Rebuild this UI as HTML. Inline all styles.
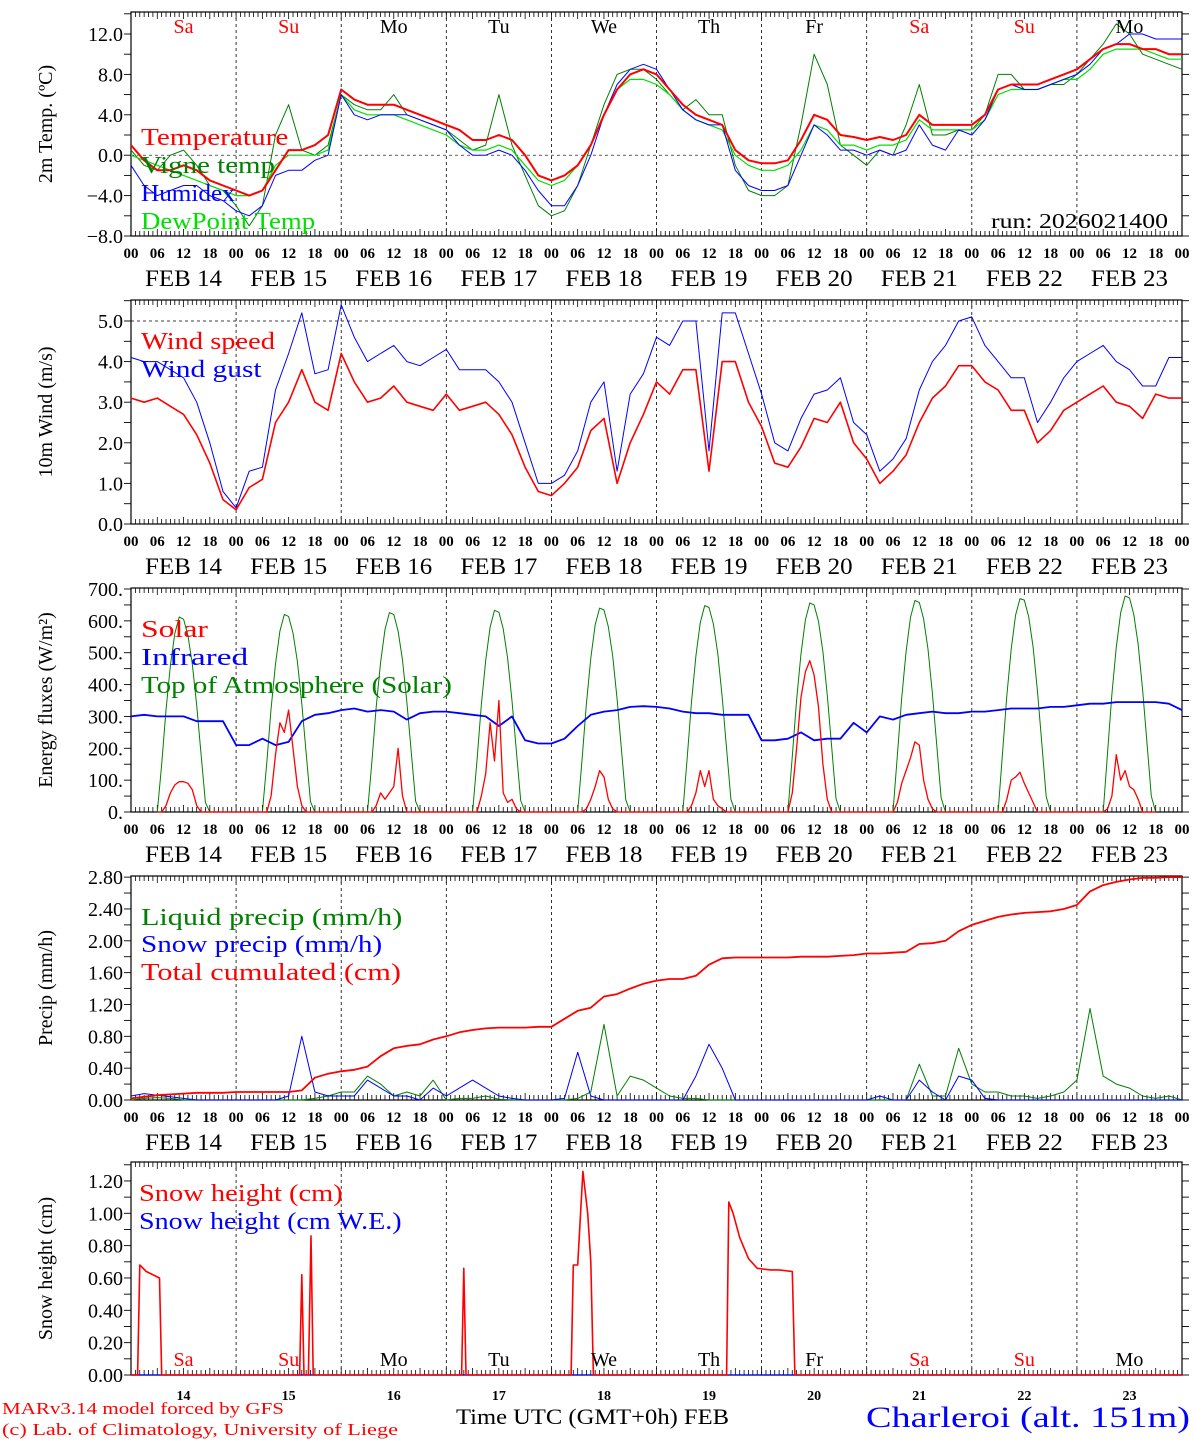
<!DOCTYPE html>
<html><head><meta charset="utf-8"><style>
html,body{margin:0;padding:0;background:#fff}
svg{display:block;font-family:"Liberation Serif",serif}
</style></head><body>
<svg id="chart" width="1194" height="1440" viewBox="0 0 1194 1440" xmlns="http://www.w3.org/2000/svg"></svg>
<script>
// ---------- DATA (3-hourly unless noted, starting FEB 14 00 UTC) ----------
const dayLabels = ["Sa","Su","Mo","Tu","We","Th","Fr","Sa","Su","Mo"];
const dateLabels = ["FEB 14","FEB 15","FEB 16","FEB 17","FEB 18","FEB 19","FEB 20","FEB 21","FEB 22","FEB 23"];
const dayNums = ["14","15","16","17","18","19","20","21","22","23"];

const tempVals = [1.0,-0.5,-1.5,-1.5,-1.0,-1.5,-2.5,-3.0, -3.5,-4.0,-3.5,-1.5,0.5,0.5,1.0,2.0, 6.5,5.5,5.0,5.0,5.0,4.5,4.0,3.5, 3.0,2.5,1.5,1.5,2.0,1.5,0.0,-2.0, -2.5,-2.0,-1.0,1.0,4.0,6.5,8.0,8.5, 8.0,6.5,5.0,4.0,3.5,3.0,0.5,-0.5, -0.8,-0.8,-0.5,1.5,4.0,3.5,2.0,1.8, 1.5,1.8,1.5,2.0,4.0,3.0,3.0,3.0, 3.0,4.0,6.5,7.0,7.0,7.0,7.5,8.0, 8.5,9.5,10.5,11.0,11.0,10.5,10.5,10.0,10.0];
const vigneVals = [0.5,-1,-1.5,0,0.5,-1,-3,-3.5, -5,-7,-5,2,5,0.5,0,1, 6,5,4.5,4.5,6,4,3.5,3, 2.5,1.5,0.5,1,6,1,-2,-5, -6,-5.5,-3,1,5,8,8.5,8.5, 7.5,6,4.5,5.5,4,4,-1,-3.5, -4,-4,-3,3,10,7,1,0, -1,0.5,0,3,7,2,2,2.5, 2.5,4,8,8,6.5,6.5,7,7, 8,9.5,11,13,12,10,9.5,9,8.5];
const humidexVals = [-1,-3,-4,-3.5,-3,-3,-4,-4.5, -5.5,-6,-5,-2,-1.5,-1.5,-0.5,0, 6,4,3.5,4,4,4,3.5,3, 2.5,1,0,0,0.5,0,-1.5,-3.5, -5,-5,-3,0,4,7,8.5,9, 8.5,6.5,4.5,3.5,3,3,-1.5,-3, -3.5,-3.5,-3,0,3,2,0.5,0.5, 0,0.5,0,0.5,3,1,0.5,2.5, 2,3.5,6.5,7,6.5,6.5,7,7.5, 8,9,10.5,11,12,12,11.5,11.5,11.5];
const dewVals = [0,-0.5,-1,-1.5,-2,-2.5,-3,-3.5, -4,-4,-3.5,-1,0,0,0,0.5, 6,4.5,4,4,4,3.5,3,2.5, 2,1,0.5,0.5,1,0.5,-1,-2.5, -3,-2.5,-1,1,4,6.5,7.5,7.5, 7,6,4.5,3.5,3,2.5,0,-1, -1.5,-1.5,-1,0.5,3,2.5,1,1, 0.5,1,1,1.5,3.5,2.5,2.5,2.5, 2.5,3.5,6,6.5,6.5,6.5,7,7.5, 7.5,8.5,10,10.5,10.5,10.5,10,9.5,9.5];

const windVals = [3.1,3.0,3.1,2.9,2.7,2.2,1.5,0.6, 0.35,0.9,1.1,2.5,3.0,3.8,3.0,2.8, 4.2,3.5,3.0,3.1,3.4,3.0,2.9,2.8, 3.2,2.8,2.9,3.0,2.7,2.2,1.4,0.8, 0.7,1.0,1.4,2.3,2.6,1.0,2.0,2.7, 3.5,3.2,3.8,3.8,1.3,4.0,4.0,3.0, 2.4,1.5,1.4,1.9,2.6,2.5,3.0,2.0, 1.6,1.0,1.3,1.7,2.5,3.1,3.4,3.9, 3.9,3.5,3.3,2.8,2.8,2.0,2.3,2.8, 3.0,3.2,3.4,3.0,2.9,2.6,3.2,3.1,3.1];
const gustVals = [4.1,4.0,4.0,3.8,3.6,3.0,2.0,0.8, 0.4,1.3,1.4,3.3,4.2,5.2,3.7,3.8, 5.4,4.6,4.0,4.2,4.4,4.0,3.9,4.1, 4.3,3.8,3.8,3.8,3.5,3.0,2.0,1.0, 1.0,1.2,1.8,3.0,3.5,1.3,3.2,3.7, 4.6,4.4,5.0,5.0,1.8,5.2,5.2,4.2, 3.2,2.0,1.8,2.6,3.2,3.3,3.6,2.5, 2.2,1.3,1.6,2.1,3.3,4.0,4.4,5.0, 5.1,4.4,4.0,3.6,3.6,2.5,3.0,3.6, 4.0,4.2,4.4,4.0,3.8,3.4,3.4,4.1,4.1];

const infraredVals = [300,305,300,300,300,285,285,285, 210,210,230,210,220,285,305,310, 320,325,315,320,315,290,310,315, 315,310,305,300,270,300,225,215, 215,230,270,305,315,320,330,332, 330,325,315,310,310,305,305,305, 225,225,230,250,225,230,230,280, 250,300,290,305,310,315,310,310, 315,315,320,325,325,325,330,330, 335,340,340,345,345,345,345,340,320];
// hourly values 06..18 UTC for each day
const solarDays = [
 [0,0,20,60,85,95,95,90,70,20,0,0,0],
 [0,0,50,180,280,250,320,200,80,20,0,0,0],
 [0,0,20,60,40,60,80,200,50,0,0,0,0],
 [0,0,50,120,280,160,350,60,30,40,10,0,0],
 [0,0,10,40,80,130,110,40,10,0,0,0,0],
 [0,0,20,60,130,80,130,40,20,10,0,0,0],
 [0,60,200,360,440,475,430,330,150,40,0,0,0],
 [0,30,90,130,170,220,210,100,40,10,0,0,0],
 [0,0,40,100,110,125,90,60,30,0,0,0,0],
 [0,10,50,180,100,130,80,70,40,0,0,0,0]];
const toaDays = [
 [0,150,320,460,560,612,605,555,465,335,180,30,0],
 [0,155,325,465,568,620,614,562,472,340,183,32,0],
 [0,158,330,470,573,626,620,568,477,344,186,34,0],
 [0,162,335,476,580,633,627,575,483,349,190,36,0],
 [0,166,340,483,588,640,634,582,490,354,194,38,0],
 [0,170,345,490,595,648,642,590,497,360,198,40,0],
 [0,175,352,497,603,656,650,598,504,366,203,42,0],
 [0,180,358,504,611,664,658,606,511,372,208,45,0],
 [0,184,364,511,618,670,665,613,518,378,212,48,0],
 [0,188,370,518,626,678,672,620,525,384,216,50,0]];

const cumVals = [0.02,0.04,0.06,0.07,0.08,0.09,0.09,0.09, 0.10,0.10,0.10,0.10,0.10,0.12,0.28,0.33, 0.36,0.38,0.42,0.55,0.65,0.68,0.70,0.76, 0.80,0.85,0.88,0.90,0.91,0.91,0.91,0.92, 0.92,1.02,1.12,1.16,1.30,1.33,1.40,1.46, 1.50,1.52,1.52,1.56,1.70,1.78,1.79,1.79, 1.79,1.79,1.79,1.80,1.80,1.80,1.81,1.82, 1.84,1.84,1.85,1.86,1.96,1.97,2.00,2.12, 2.20,2.25,2.30,2.33,2.35,2.36,2.37,2.40, 2.45,2.62,2.70,2.74,2.77,2.79,2.79,2.80,2.80];
const liquidVals = [0,0.02,0.03,0.02,0,0,0,0, 0,0,0,0,0,0,0.02,0.05, 0.1,0.1,0.3,0.2,0.05,0.1,0.05,0.25, 0,0.02,0.02,0.05,0.01,0,0,0, 0,0,0.02,0.1,0.95,0.05,0.3,0.25, 0.15,0.05,0.02,0.02,0,0,0,0, 0,0,0,0,0,0,0,0, 0,0,0,0,0.45,0.05,0.05,0.65, 0.2,0.1,0.1,0.05,0.05,0.02,0.05,0.1, 0.25,1.15,0.3,0.2,0.15,0.05,0.02,0.05,0];
const snowPrecipVals = [0.05,0.08,0.06,0.04,0.02,0,0,0, 0,0,0,0,0.05,0.8,0.1,0.05, 0.05,0.05,0.25,0.15,0.05,0.05,0,0.15, 0.05,0.15,0.25,0.15,0.05,0.02,0,0, 0,0.02,0.6,0.05,0,0,0,0, 0,0,0,0.3,0.7,0.4,0,0, 0,0,0,0,0,0,0,0, 0,0.05,0,0,0.25,0.1,0,0.3, 0.25,0.02,0,0,0,0,0,0, 0,0,0,0,0,0,0,0,0];

// snow height: hours since FEB 14 00 and value (cm)
const snowHours = [0,1.5,2,3.5,6.5,7, 38.5,39,39.5,40.5,41.1,41.6, 75.5,76,76.5, 100.5,101,102,103.2,104.3,105,105.6, 136,136.5,137.5,139,141,143,146,148,151,151.6,240];
const snowHeightVals = [0,0,0.68,0.64,0.6,0, 0,0.62,0,0,0.86,0, 0,0.66,0, 0,0.68,0.68,1.26,1.0,0.7,0, 0,1.07,1.0,0.85,0.72,0.66,0.65,0.65,0.64,0, 0];
const snowWEVals = [0,0,0,0,0,0, 0,0,0,0,0,0, 0,0,0, 0,0,0,0,0,0,0, 0,0,0,0,0,0,0,0,0,0, 0];

// ---------- DRAWING ----------
const NS = "http://www.w3.org/2000/svg";
const svg = document.getElementById("chart");
const X0 = 131, X1 = 1182;
function xh(h){ return X0 + h * (X1 - X0) / 240; }
function mk(tag, attrs, parent){
  const e = document.createElementNS(NS, tag);
  for (const k in attrs) e.setAttribute(k, attrs[k]);
  (parent || svg).appendChild(e);
  return e;
}
function txt(s, x, y, opts, parent){
  const t = mk("text", Object.assign({x:x, y:y}, opts), parent);
  t.textContent = s;
  return t;
}
const panels = [
  {name:"temp", top:12, bot:236, zeroY:155.2, scale:10.1, title:"2m Temp. (ºC)", ticks:[-8,-4,0,4,8,12], fmt:v=>(v<0?"\u2212":"")+Math.abs(v).toFixed(1), minor:2, minV:-8, maxV:14.3},
  {name:"wind", top:300, bot:524, zeroY:524, scale:40.6, title:"10m Wind (m/s)", ticks:[0,1,2,3,4,5], fmt:v=>v.toFixed(1), minor:0.5, minV:0, maxV:5.5},
  {name:"energy", top:588, bot:812, zeroY:812, scale:223/700, title:"Energy fluxes (W/m²)", ticks:[0,100,200,300,400,500,600,700], fmt:v=>v+".", minor:50, minV:0, maxV:700},
  {name:"precip", top:876, bot:1100, zeroY:1100, scale:79.6, title:"Precip (mm/h)", ticks:[0,0.4,0.8,1.2,1.6,2.0,2.4,2.8], fmt:v=>v.toFixed(2), minor:0.2, minV:0, maxV:2.81},
  {name:"snow", top:1162, bot:1375, zeroY:1375, scale:161.7, title:"Snow height (cm)", ticks:[0,0.2,0.4,0.6,0.8,1.0,1.2], fmt:v=>v.toFixed(2), minor:0.1, minV:0, maxV:1.31}
];
function yv(p, v){ return p.zeroY - v * p.scale; }

panels.forEach((p, pi) => {
  const g = mk("g", {});
  
  
  const fr = mk("rect", {x:X0, y:p.top, width:X1-X0, height:p.bot-p.top, fill:"none", stroke:"#000", "stroke-width":1.2}, g);
  
  
  for (let d = 1; d < 10; d++) {
    const l = mk("line", {x1:xh(d*24), x2:xh(d*24), y1:p.top, y2:p.bot, stroke:"#000", "stroke-width":0.8, "stroke-dasharray":"3,3"}, g);
    
    
  }
  for (let h = 0; h <= 240; h++) {
    const len = (h % 6 === 0) ? 7 : 5;
    mk("line", {x1:xh(h), x2:xh(h), y1:p.bot, y2:p.bot-len, stroke:"#000", "stroke-width":0.8}, g);
    mk("line", {x1:xh(h), x2:xh(h), y1:p.top, y2:p.top+len, stroke:"#000", "stroke-width":0.8}, g);
  }
  for (let v = p.minV; v <= p.maxV + 1e-9; v += p.minor) {
    const y = yv(p, v);
    if (y < p.top - 0.5) continue;
    mk("line", {x1:X0-7, x2:X0, y1:y, y2:y, stroke:"#000", "stroke-width":0.9}, g);
    mk("line", {x1:X1, x2:X1+7, y1:y, y2:y, stroke:"#000", "stroke-width":0.9}, g);
  }
  p.ticks.forEach(v => {
    const t = txt(p.fmt(v), 123, yv(p, v) + 7, {"text-anchor":"end", "font-size":20}, g);
    
    
  });
  const cy = (p.top + p.bot) / 2;
  const yt = txt(p.title, 0, 0, {"text-anchor":"middle", "font-size":20, transform:"translate(52," + cy + ") rotate(-90)"}, g);
  
  
  if (pi < 4) {
    for (let h = 0; h <= 240; h += 6) {
      const s = String(h % 24).padStart(2, "0");
      const t = txt(s, xh(h), p.bot + 22, {"text-anchor":"middle", "font-size":15, "font-weight":"bold"}, g);
      
      
    }
    dateLabels.forEach((s, d) => {
      const t = txt(s, xh(d*24+12), p.bot + 50, {"text-anchor":"middle", "font-size":23, textLength:77, lengthAdjust:"spacingAndGlyphs"}, g);
      
      
    });
  }
});

function series(p, hours, vals, color, width, name){
  const pts = vals.map((v, i) => xh(hours(i)).toFixed(1) + "," + yv(p, v).toFixed(1)).join(" ");
  const pl = mk("polyline", {points:pts, fill:"none", stroke:color, "stroke-width":width, "stroke-linejoin":"round"});
  
  
  return pl;
}
const h3 = i => i * 3;
function dailySeries(p, days, color, width, name){
  const vals = [], hrs = [];
  days.forEach((arr, d) => arr.forEach((v, k) => { hrs.push(d*24 + 6 + k); vals.push(v); }));
  return series(p, i => hrs[i], vals, color, width, name);
}
function legend(s, x, y, color, chars){
  const t = txt(s, x, y, {fill:color, "font-size":24, textLength:chars * 13.4, lengthAdjust:"spacingAndGlyphs"});
  
  
}

// panel 1
const P1 = panels[0];
mk("line", {x1:X0, x2:X1, y1:yv(P1,0), y2:yv(P1,0), stroke:"#000", "stroke-width":0.7, "stroke-dasharray":"3,3"});
series(P1, h3, vigneVals, "#008000", 1, "vigne-temp-line");
series(P1, h3, dewVals, "#00e000", 1.2, "dewpoint-line");
series(P1, h3, humidexVals, "#0000ff", 1, "humidex-line");
series(P1, h3, tempVals, "#ff0000", 2, "temperature-line");
legend("Temperature", 141, 145, "#ff0000", 11);
legend("Vigne temp", 141, 173, "#008000", 10);
legend("Humidex", 141, 201, "#0000ff", 7);
legend("DewPoint Temp", 141, 229, "#00e000", 13);
const run = txt("run: 2026021400", 1168, 228, {"text-anchor":"end", "font-size":21, textLength:177, lengthAdjust:"spacingAndGlyphs"});


dayLabels.forEach((s, d) => {
  const t = txt(s, xh(d*24+12), 33, {"text-anchor":"middle", "font-size":20, fill:(s==="Sa"||s==="Su")?"#ff0000":"#000"});
  
  
});

// panel 2
const P2 = panels[1];
mk("line", {x1:X0, x2:X1, y1:yv(P2,5), y2:yv(P2,5), stroke:"#000", "stroke-width":0.7, "stroke-dasharray":"3,3"});
series(P2, h3, gustVals, "#0000ff", 1, "wind-gust-line");
series(P2, h3, windVals, "#ff0000", 1.6, "wind-speed-line");
legend("Wind speed", 141, 349, "#ff0000", 10);
legend("Wind gust", 141, 377, "#0000ff", 9);

// panel 3
const P3 = panels[2];
dailySeries(P3, toaDays, "#008000", 1, "toa-solar-line");
series(P3, h3, infraredVals, "#0000ff", 1.8, "infrared-line");
dailySeries(P3, solarDays, "#ff0000", 1.3, "solar-line");
legend("Solar", 141, 637, "#ff0000", 5);
legend("Infrared", 141, 665, "#0000ff", 8);
legend("Top of Atmosphere (Solar)", 141, 693, "#008000", 23.2);

// panel 4
const P4 = panels[3];
series(P4, h3, liquidVals, "#008000", 1, "liquid-precip-line");
series(P4, h3, snowPrecipVals, "#0000ff", 1, "snow-precip-line");
series(P4, h3, cumVals, "#ff0000", 1.8, "cumulated-precip-line");
legend("Liquid precip (mm/h)", 141, 925, "#008000", 19.5);
legend("Snow precip (mm/h)", 141, 952, "#0000ff", 18);
legend("Total cumulated (cm)", 141, 980, "#ff0000", 19.4);

// panel 5
const P5 = panels[4];
series(P5, i => snowHours[i], snowWEVals, "#0000ff", 1.2, "snow-height-we-line");
series(P5, i => snowHours[i], snowHeightVals, "#ff0000", 1.6, "snow-height-line");
legend("Snow height (cm)", 139, 1201, "#ff0000", 15.2);
legend("Snow height (cm W.E.)", 139, 1229, "#0000ff", 19.6);
dayLabels.forEach((s, d) => {
  const t = txt(s, xh(d*24+12), 1366, {"text-anchor":"middle", "font-size":20, fill:(s==="Sa"||s==="Su")?"#ff0000":"#000"});
  
  
});
dayNums.forEach((s, d) => {
  const t = txt(s, xh(d*24+12), 1400, {"text-anchor":"middle", "font-size":14, "font-weight":"bold"});
  
  
});

// footer
const f1 = txt("MARv3.14 model forced by GFS", 2, 1414, {fill:"#ff0000", "font-size":17, textLength:282, lengthAdjust:"spacingAndGlyphs"});


const f2 = txt("(c) Lab. of Climatology, University of Liege", 2, 1435, {fill:"#ff0000", "font-size":17, textLength:396, lengthAdjust:"spacingAndGlyphs"});


const xt = txt("Time UTC (GMT+0h) FEB", 456, 1424, {"font-size":22, textLength:273, lengthAdjust:"spacingAndGlyphs"});


const loc = txt("Charleroi (alt. 151m)", 866, 1427, {fill:"#0000ff", "font-size":30, textLength:324, lengthAdjust:"spacingAndGlyphs"});


</script>
</body></html>
